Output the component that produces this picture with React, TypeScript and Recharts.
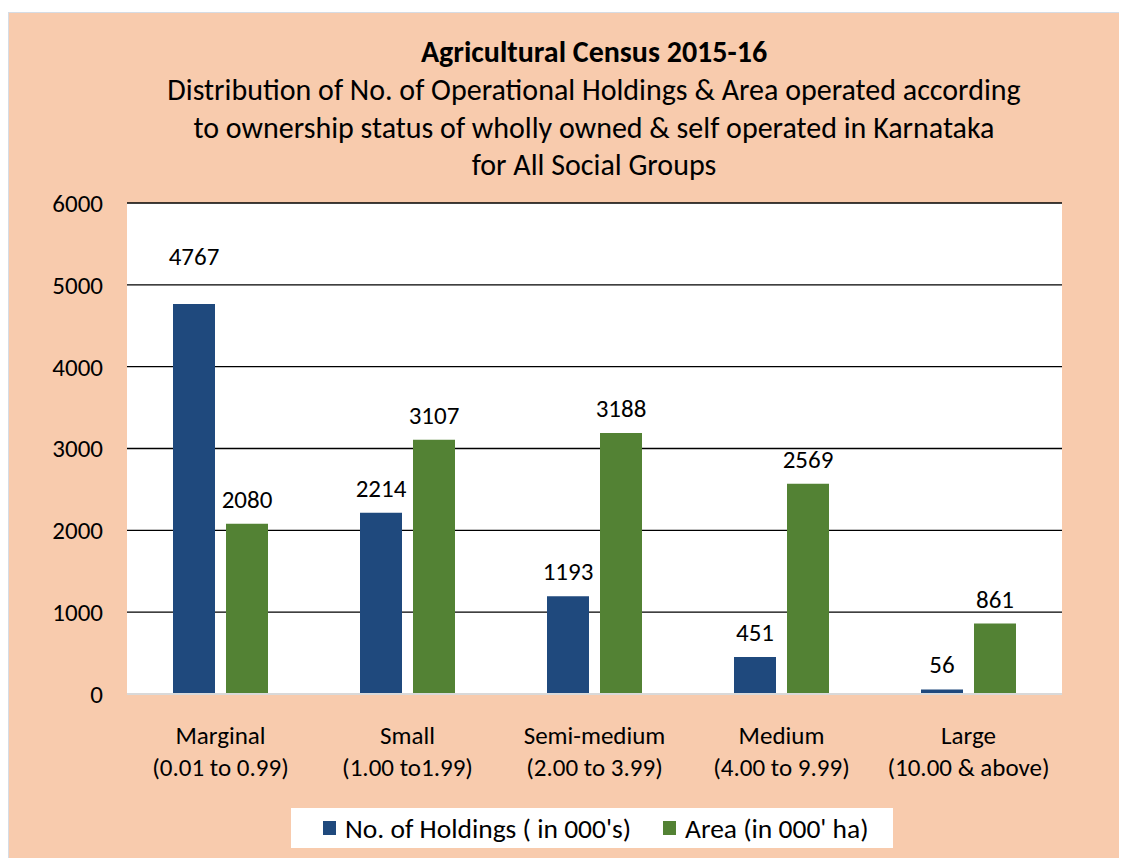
import React from 'react';
import { BarChart, Bar, XAxis, YAxis, CartesianGrid, LabelList } from 'recharts';

const categories = ['Marginal', 'Small', 'Semi-medium', 'Medium', 'Large'];
const ranges = ['(0.01 to 0.99)', '(1.00 to1.99)', '(2.00 to 3.99)', '(4.00 to 9.99)', '(10.00 & above)'];
const holdings = [4767, 2214, 1193, 451, 56];
const area = [2080, 3107, 3188, 2569, 861];
const yTicks = [0, 1000, 2000, 3000, 4000, 5000, 6000];
const seriesNames = ["No. of Holdings ( in 000's)", "Area (in 000' ha)"];
const titleText = 'Agricultural Census 2015-16';
const subtitleLines = [
  'Distribution of No. of Operational Holdings & Area operated according',
  'to ownership status of wholly owned & self operated in Karnataka',
  'for All Social Groups',
];

const BLUE = '#1F497D';
const GREEN = '#538234';
const PEACH = '#F8CBAD';
const FONT = 'Carlito, Calibri, Lato, sans-serif';

const data = categories.map((c, i) => ({
  name: c,
  range: ranges[i],
  holdings: holdings[i],
  area: area[i],
}));

const CatTick = (props: any) => {
  const { x, y, index } = props;
  return (
    <g>
      <text x={x} y={y + 41.5} textAnchor="middle" fontFamily={FONT} fontSize={25} fill="#000">
        {categories[index]}
      </text>
      <text x={x} y={y + 73.5} textAnchor="middle" fontFamily={FONT} fontSize={25} fill="#000">
        {ranges[index]}
      </text>
    </g>
  );
};

const makeLabel = (lift: (i: number) => number) => (props: any) => {
  const { x, y, width, value, index } = props;
  return (
    <text
      x={Number(x) + Number(width) / 2}
      y={Number(y) - lift(index)}
      textAnchor="middle"
      fontFamily={FONT}
      fontSize={25}
      fill="#000"
    >
      {value}
    </text>
  );
};

// the label of the tallest bar sits higher so it clears the 5000 gridline
const holdLabel = makeLabel((i) => (holdings[i] > 4500 ? 39 : 16));
const areaLabel = makeLabel(() => 16);

export default function App() {
  return (
    <div style={{ position: 'relative', width: 1119, height: 850, fontFamily: FONT }}>
      <div
        style={{
          position: 'absolute',
          top: 4,
          left: 0,
          width: 1119,
          height: 846,
          background: PEACH,
          borderTop: '1px solid #d6dce4',
          borderLeft: '1px solid #d6dce4',
          boxSizing: 'border-box',
        }}
      />
      <div
        style={{
          position: 'absolute',
          top: 25,
          left: 86,
          width: 1000,
          textAlign: 'center',
          color: '#000',
          fontFamily: FONT,
        }}
      >
        <div style={{ fontSize: 30, fontWeight: 700, lineHeight: '38px' }}>{titleText}</div>
        {subtitleLines.map((l) => (
          <div key={l} style={{ fontSize: 30, lineHeight: '37.5px' }}>
            {l}
          </div>
        ))}
      </div>
      <div style={{ position: 'absolute', top: 4, left: 0 }}>
        <BarChart
          width={1119}
          height={846}
          data={data}
          margin={{ top: 191, right: 65, bottom: 0, left: 0 }}
          barGap={11}
          barSize={42}
        >
          <CartesianGrid vertical={false} stroke="#000" strokeWidth={1.3} fill="#fff" />
          <XAxis
            dataKey="name"
            height={164}
            tickLine={false}
            axisLine={{ stroke: '#d9d9d9', strokeWidth: 2 }}
            tick={<CatTick />}
            interval={0}
          />
          <YAxis
            width={119}
            domain={[0, 6000]}
            ticks={yTicks}
            tickLine={false}
            axisLine={false}
            tickSize={0}
            tickMargin={24}
            tick={{ fontFamily: FONT, fontSize: 25, fill: '#000' }}
          />
          <Bar dataKey="holdings" name={seriesNames[0]} fill={BLUE} isAnimationActive={false}>
            <LabelList dataKey="holdings" content={holdLabel} />
          </Bar>
          <Bar dataKey="area" name={seriesNames[1]} fill={GREEN} isAnimationActive={false}>
            <LabelList dataKey="area" content={areaLabel} />
          </Bar>
        </BarChart>
      </div>
      <div
        style={{
          position: 'absolute',
          left: 283,
          top: 800,
          width: 602,
          height: 40,
          background: '#fff',
          fontFamily: FONT,
          fontSize: 27.5,
          color: '#000',
        }}
      >
        {[BLUE, GREEN].map((c, i) => (
          <div
            key={c}
            style={{
              position: 'absolute',
              left: i === 0 ? 32 : 372,
              top: 0,
              height: 40,
              display: 'flex',
              alignItems: 'center',
              whiteSpace: 'nowrap',
            }}
          >
            <span style={{ display: 'inline-block', width: 13, height: 14, background: c, marginRight: 9 }} />
            <span>{seriesNames[i]}</span>
          </div>
        ))}
      </div>
    </div>
  );
}
